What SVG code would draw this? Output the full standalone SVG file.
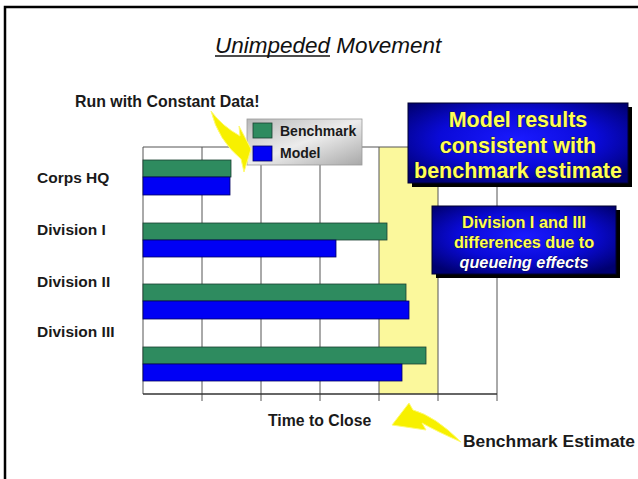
<svg xmlns="http://www.w3.org/2000/svg" width="638" height="479" viewBox="0 0 638 479">
<defs>
<radialGradient id="blueg" cx="50%" cy="45%" r="65%">
<stop offset="0" stop-color="#1a1aff"/>
<stop offset="0.55" stop-color="#0a0ad8"/>
<stop offset="1" stop-color="#000070"/>
</radialGradient>
<linearGradient id="greyg" x1="0" y1="0" x2="1" y2="1">
<stop offset="0" stop-color="#b8b8b8"/>
<stop offset="0.5" stop-color="#ececec"/>
<stop offset="1" stop-color="#a8a8a8"/>
</linearGradient>
<style>
.lbl{font-family:"Liberation Sans",Arial,sans-serif;font-weight:bold;font-size:15.5px;fill:#1a1a1a}
.grid{stroke:#555;stroke-width:1;fill:none}
.bench{fill:#2e8b5f;stroke:#1a4030;stroke-width:0.8}
.model{fill:#0000f5;stroke:#000060;stroke-width:0.8}
.box{fill:url(#blueg);stroke:#000030;stroke-width:1}
.shadow{fill:#000}
.ytxt{font-family:"Liberation Sans",Arial,sans-serif;font-weight:bold;fill:#ffff55;text-anchor:middle;stroke:#202000;stroke-width:0.6;paint-order:stroke}
.arrow{fill:#f7f000;stroke:#fffb70;stroke-width:1}
</style>
</defs>
<rect x="0" y="0" width="638" height="479" fill="#fff"/>
<rect x="5" y="7" width="700" height="500" fill="none" stroke="#000" stroke-width="2.5"/>

<g id="title">
<text x="215" y="53" font-family="&quot;Liberation Sans&quot;,Arial,sans-serif" font-style="italic" font-size="22.5" fill="#111">Unimpeded Movement</text>
<line x1="215" y1="56" x2="330" y2="56" stroke="#111" stroke-width="1.6"/>
</g>

<g id="chart">
<rect x="379" y="147" width="59" height="247" fill="#fbf89c"/>
<path class="grid" d="M143,147H497V394M202,147V401M261,147V401M320,147V401M379,147V401M438,147V401M497,394V401M143,147V394"/>
<line x1="143" y1="394" x2="497" y2="394" stroke="#333" stroke-width="1.5"/>
<rect class="bench" x="143" y="160" width="88" height="17"/>
<rect class="model" x="143" y="177" width="87" height="18"/>
<rect class="bench" x="143" y="223" width="244" height="17"/>
<rect class="model" x="143" y="240" width="193" height="17"/>
<rect class="bench" x="143" y="284" width="263" height="17"/>
<rect class="model" x="143" y="301" width="266" height="18"/>
<rect class="bench" x="143" y="347" width="283" height="17"/>
<rect class="model" x="143" y="364" width="259" height="17"/>
</g>

<g id="labels">
<text class="lbl" x="37" y="183">Corps HQ</text>
<text class="lbl" x="37" y="235">Division I</text>
<text class="lbl" x="37" y="287">Division II</text>
<text class="lbl" x="37" y="337">Division III</text>
<text class="lbl" x="268" y="426" style="font-size:15.8px">Time to Close</text>
</g>

<g id="legend">
<rect x="247" y="119" width="115" height="46" fill="url(#greyg)" stroke="#999" stroke-width="0.8"/>
<rect class="bench" x="253" y="123" width="19" height="15"/>
<rect class="model" x="253" y="146" width="19" height="15"/>
<text class="lbl" x="280" y="136" style="font-size:14px">Benchmark</text>
<text class="lbl" x="280" y="158" style="font-size:14px">Model</text>
</g>

<g id="note-constant">
<text class="lbl" x="75" y="107" style="font-size:15.9px">Run with Constant Data!</text>
</g>

<g id="note-benchmark">
<text class="lbl" x="463" y="447" style="font-size:17.4px">Benchmark Estimate</text>
</g>

<g id="box-results">
<rect class="shadow" x="412" y="107" width="220" height="80"/>
<rect class="box" x="408" y="103" width="220" height="80"/>
<text class="ytxt" x="518" y="127" font-size="21.5">Model results</text>
<text class="ytxt" x="518" y="153" font-size="21.5">consistent with</text>
<text class="ytxt" x="518" y="178" font-size="21.5">benchmark estimate</text>
</g>

<g id="box-queueing">
<rect class="shadow" x="436" y="210" width="184" height="68"/>
<rect class="box" x="432" y="206" width="184" height="68"/>
<text class="ytxt" x="524" y="228" font-size="16.3">Division I and III</text>
<text class="ytxt" x="524" y="248" font-size="16.3">differences due to</text>
<text class="ytxt" x="524" y="268" font-size="16.3" font-style="italic" style="fill:#fff;stroke:#000020">queueing effects</text>
</g>

<g id="connectors">
<path class="arrow" d="M251,149 L239,126 L240,136 Q222,126 211,111 Q218,140 241,159 L244,172 Z"/>
<path class="arrow" d="M392,425 L409,403 L413,410 Q435,416 461,442 Q436,431 422,423 L426,430 Z"/>
</g>
</svg>
